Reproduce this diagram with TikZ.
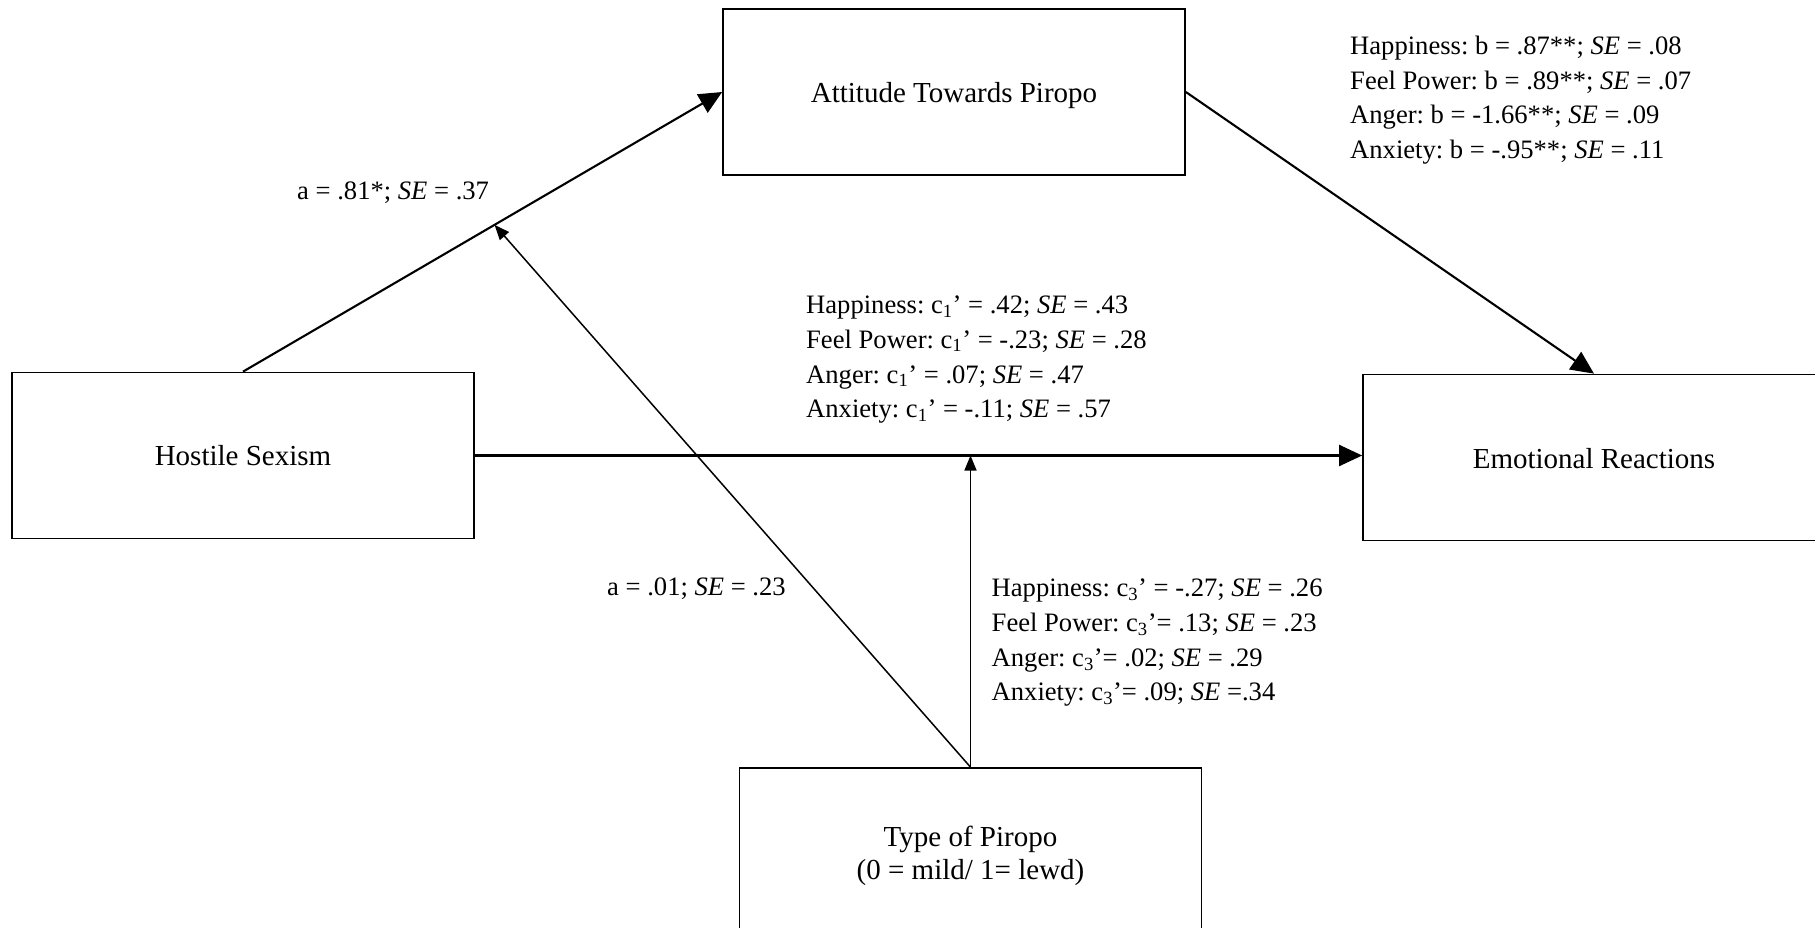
\documentclass[tikz,border=0pt]{standalone}
\usepackage{fontspec}
\setmainfont{Liberation Serif}
\usetikzlibrary{arrows.meta,calc}
\begin{document}
\begin{tikzpicture}[x=1pt,y=-1pt,
  basebox/.style={draw,line width=1.7pt,rectangle,minimum width=462pt,minimum height=166pt,inner sep=0pt,align=center,font=\fontsize{29}{33}\selectfont},
  box/.style={basebox,text height=22pt,text depth=0pt},
  lbl/.style={inner sep=0pt,anchor=base west,font=\fontsize{26.6}{34.5}\selectfont\frenchspacing},
  thickarrow/.style={line width=2.1pt,-{Triangle[length=23pt,width=21pt]}},
  thinarrow/.style={line width=1.5pt,-{Triangle[length=15pt,width=12pt]}}]
\useasboundingbox (0,0) rectangle (1815,928);
\clip (0,0) rectangle (1815,928);
\node[box] (att) at (954,92) {Attitude Towards Piropo};
\node[box,text height=19pt] (hs) at (243,455.5) {Hostile Sexism};
\node[box] (er) at (1594,457.5) {Emotional Reactions};
\node[basebox,minimum height=176pt] (type) at (970.5,856) {Type of Piropo\\(0 = mild/ 1= lewd)};
\coordinate (mid) at (type.north |- hs.east);
\coordinate (apath) at ($(hs.north)!0.525!(att.west)$);
\draw[thickarrow] (hs.north) -- (att.west);
\draw[thickarrow] (att.east) -- (er.north);
\draw[thickarrow] (hs.east) -- (hs.east -| er.west);
\draw[thinarrow] (type.north) -- (mid);
\draw[thinarrow] (type.north) -- (apath);
\node[lbl] (la) at (297,200) {a = .81*; \textit{SE} = .37};
\node[lbl] (la2) at (607,595) {a = .01; \textit{SE} = .23};
\node[lbl] (b1) at (1350,55) {Happiness: b = .87**; \textit{SE} = .08};
\node[lbl] (b2) at (1350,89.5) {Feel Power: b = .89**; \textit{SE} = .07};
\node[lbl] (b3) at (1350,124) {Anger: b = -1.66**; \textit{SE} = .09};
\node[lbl] (b4) at (1350,158.5) {Anxiety: b = -.95**; \textit{SE} = .11};
\node[lbl] (c11) at (806,313.3) {Happiness: c\textsubscript{1}’ = .42; \textit{SE} = .43};
\node[lbl] (c12) at (806,348) {Feel Power: c\textsubscript{1}’ = -.23; \textit{SE} = .28};
\node[lbl] (c13) at (806,383) {Anger: c\textsubscript{1}’ = .07; \textit{SE} = .47};
\node[lbl] (c14) at (806,417.7) {Anxiety: c\textsubscript{1}’ = -.11; \textit{SE} = .57};
\node[lbl] (c31) at (991.5,596.7) {Happiness: c\textsubscript{3}’ = -.27; \textit{SE} = .26};
\node[lbl] (c32) at (991.5,631.5) {Feel Power: c\textsubscript{3}’= .13; \textit{SE} = .23};
\node[lbl] (c33) at (991.5,666.5) {Anger: c\textsubscript{3}’= .02; \textit{SE} = .29};
\node[lbl] (c34) at (991.5,700.7) {Anxiety: c\textsubscript{3}’= .09; \textit{SE} =.34};
\end{tikzpicture}
\end{document}
